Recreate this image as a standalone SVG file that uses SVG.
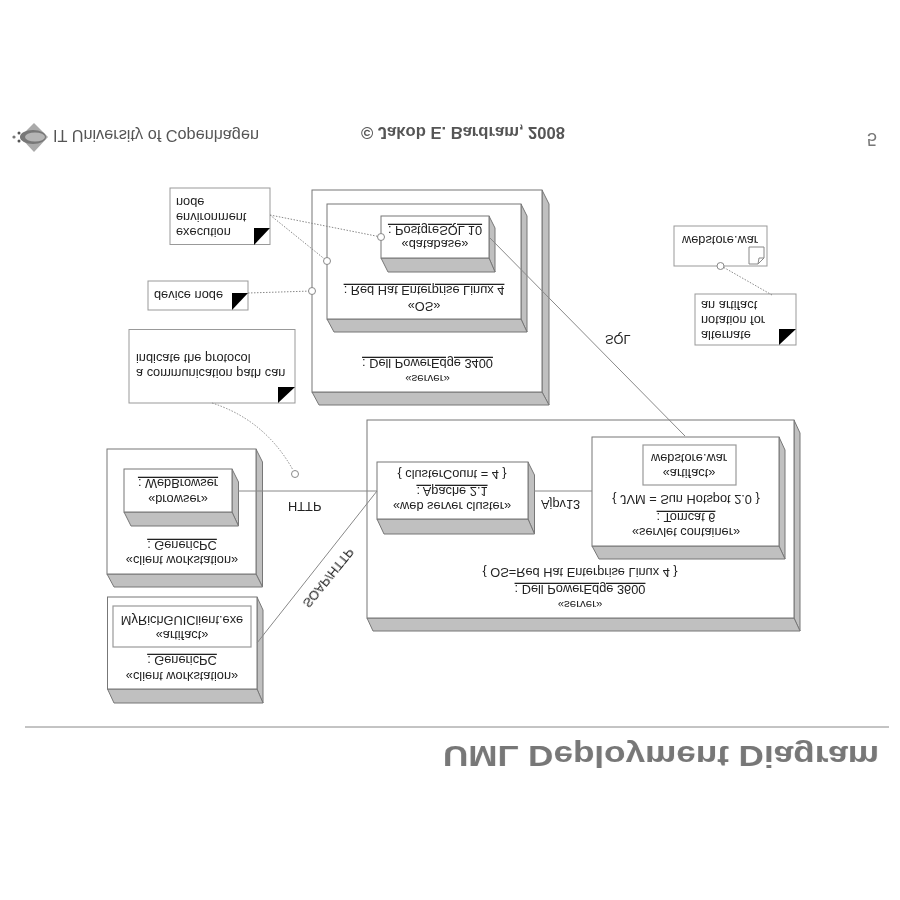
<svg xmlns="http://www.w3.org/2000/svg" width="900" height="900" viewBox="0 0 900 900">
<style>
text{font-family:"Liberation Sans",Arial,sans-serif;font-size:12.8px;fill:#222}
.m{text-anchor:middle}
.u{text-decoration:underline}
.f{fill:#fff;stroke:#777;stroke-width:1}
.d{fill:#c0c0c0;stroke:#777;stroke-width:1}
.a{fill:#fff;stroke:#999;stroke-width:1.2}
.n{fill:#fff;stroke:#999;stroke-width:1}
.k{fill:#000;stroke:none}
.c{fill:none;stroke:#888;stroke-width:1}
.o{fill:none;stroke:#888;stroke-width:1;stroke-dasharray:1.5 1.5}
.r{fill:#fff;stroke:#888;stroke-width:1}
.h{fill:#555;font-size:16px}
</style>
<defs><filter id="soft" x="0" y="0" width="100%" height="100%"><feGaussianBlur stdDeviation="0.4"/></filter></defs>
<rect width="900" height="900" fill="#fff"/>
<g filter="url(#soft)">
<g id="header">
<g id="logo">
<path d="M34 123L48 137L34 152L20 137Z" fill="#aaa"/>
<ellipse cx="33" cy="137" rx="13" ry="7" fill="#777"/>
<ellipse cx="35" cy="137" rx="10" ry="4.500" fill="#b5b5b5"/>
<circle cx="14" cy="137" r="1.600" fill="#777"/>
<circle cx="19" cy="133" r="1.500" fill="#555"/>
<circle cx="19" cy="141" r="1.500" fill="#555"/>
</g>
<text class="h" transform="matrix(1 0 0 -1 53 130)" textLength="206" lengthAdjust="spacingAndGlyphs">IT University of Copenhagen</text>
<text class="h" transform="matrix(1 0 0 -1 361 127)" style="font-size:16px;font-weight:bold" textLength="204" lengthAdjust="spacingAndGlyphs">© Jakob E. Bardram, 2008</text>
<text class="h" transform="matrix(1 0 0 -1 867 133)" style="fill:#777;font-size:18px">5</text>
<path d="M25 727H889" stroke="#888" stroke-width="1" fill="none"/>
<text transform="matrix(1 0 0 -1 443 746)" style="font-size:30px;font-weight:bold;fill:#777" textLength="436" lengthAdjust="spacingAndGlyphs">UML Deployment Diagram</text>
</g>

<g id="server-3400">
<path class="d" d="M542 190L549 204V405L542 392Z"/><path class="d" d="M312 392L319 405H549L542 392Z"/>
<rect class="f" x="312" y="190" width="230" height="202"/>
<text class="m u" transform="matrix(1 0 0 -1 427.500 359)">: Dell PowerEdge 3400</text>
<text class="m" transform="matrix(1 0 0 -1 427.500 375)" style="font-size:11.500px">«server»</text>
</g>
<g id="os">
<path class="d" d="M521 204L527 216V332L521 319Z"/><path class="d" d="M327 319L334 332H527L521 319Z"/>
<rect class="f" x="327" y="204" width="194" height="115"/>
<text class="m u" transform="matrix(1 0 0 -1 424 286)">: Red Hat Enterprise Linux 4</text>
<text class="m" transform="matrix(1 0 0 -1 424 302)">«OS»</text>
</g>
<g id="database">
<path class="d" d="M489 216L495 228V272L489 258Z"/><path class="d" d="M381 258L388 272H495L489 258Z"/>
<rect class="f" x="381" y="216" width="108" height="42"/>
<text class="m u" transform="matrix(1 0 0 -1 435 226)">: PostgreSQL 10</text>
<text class="m" transform="matrix(1 0 0 -1 435 240)">«database»</text>
</g>
<g id="note-execution">
<rect class="n" x="170" y="188" width="100" height="56.500"/>
<path class="k" d="M254 245V228H270Z"/>
<text transform="matrix(1 0 0 -1 176 198)">node</text>
<text transform="matrix(1 0 0 -1 176 213)">environment</text>
<text transform="matrix(1 0 0 -1 176 228)">execution</text>
</g>
<g id="note-device">
<rect class="n" x="148" y="281" width="100" height="29"/>
<path class="k" d="M232 310V293H248Z"/>
<text transform="matrix(1 0 0 -1 154 291)">device node</text>
</g>
<g id="note-path">
<rect class="n" x="129" y="329.500" width="166" height="73.500"/>
<path class="k" d="M278 403V387H295Z"/>
<text transform="matrix(1 0 0 -1 136 354)">indicate the protocol</text>
<text transform="matrix(1 0 0 -1 136 369)">a communication path can</text>
</g>
<g id="workstation-browser">
<path class="d" d="M256 449L262.500 462V587L256 574Z"/><path class="d" d="M107 574L114 587H262.500L256 574Z"/>
<rect class="f" x="107" y="449" width="149" height="125"/>
<text class="m u" transform="matrix(1 0 0 -1 182 541)">: GenericPC</text>
<text class="m" transform="matrix(1 0 0 -1 182 556)">«client workstation»</text>
</g>
<g id="browser">
<path class="d" d="M232 469L238.500 482V526L232 512Z"/><path class="d" d="M124 512L131 526H238.500L232 512Z"/>
<rect class="f" x="124" y="469" width="108" height="43"/>
<text class="m u" transform="matrix(1 0 0 -1 178 479)">: WebBrowser</text>
<text class="m" transform="matrix(1 0 0 -1 178 495)">«browser»</text>
</g>
<g id="workstation-artifact">
<path class="d" d="M257 597L263 610V703L257 689Z"/><path class="d" d="M107.500 689L114 703H263L257 689Z"/>
<rect class="f" x="107.500" y="597" width="149.500" height="92"/>
<rect class="a" x="113" y="606" width="138" height="41"/>
<text class="m" transform="matrix(1 0 0 -1 182 616)">MyRichGUIClient.exe</text>
<text class="m" transform="matrix(1 0 0 -1 182 631)">«artifact»</text>
<text class="m u" transform="matrix(1 0 0 -1 182 656)">: GenericPC</text>
<text class="m" transform="matrix(1 0 0 -1 182 672)">«client workstation»</text>
</g>
<g id="server-3600">
<path class="d" d="M794 420L800 433V631L794 618Z"/><path class="d" d="M367 618L373 631H800L794 618Z"/>
<rect class="f" x="367" y="420" width="427" height="198"/>
<text class="m" transform="matrix(1 0 0 -1 580 568)">{ OS=Red Hat Enterprise Linux 4 }</text>
<text class="m u" transform="matrix(1 0 0 -1 580 585)">: Dell PowerEdge 3600</text>
<text class="m" transform="matrix(1 0 0 -1 580 601)" style="font-size:11.500px">«server»</text>
</g>
<g id="web-server-cluster">
<path class="d" d="M528 462L534.500 475V534L528 519Z"/><path class="d" d="M377 519L384 534H534.500L528 519Z"/>
<rect class="f" x="377" y="462" width="151" height="57"/>
<text class="m" transform="matrix(1 0 0 -1 452 470)">{ clusterCount = 4 }</text>
<text class="m u" transform="matrix(1 0 0 -1 452 487)">: Apache 2.1</text>
<text class="m" transform="matrix(1 0 0 -1 452 502)">«web server cluster»</text>
</g>
<g id="servlet-container">
<path class="d" d="M779 437L785 450V559L779 546Z"/><path class="d" d="M592 546L599 559H785L779 546Z"/>
<rect class="f" x="592" y="437" width="187" height="109"/>
<text class="m" transform="matrix(1 0 0 -1 686 495)">{ JVM = Sun Hotspot 2.0 }</text>
<text class="m u" transform="matrix(1 0 0 -1 686 513)">: Tomcat 6</text>
<text class="m" transform="matrix(1 0 0 -1 686 528)">«servlet container»</text>
</g>
<g id="artifact-webstore">
<rect class="a" x="643" y="445" width="93" height="40"/>
<text class="m" transform="matrix(1 0 0 -1 689 454)">webstore.war</text>
<text class="m" transform="matrix(1 0 0 -1 689 469)">«artifact»</text>
</g>
<g id="artifact-icon-node">
<rect class="n" x="674" y="226" width="93" height="40"/>
<path d="M749 247H764V258L758 264H749Z" fill="#fff" stroke="#888" stroke-width="1"/>
<path d="M758 264L759 258H764" fill="none" stroke="#888" stroke-width="1"/>
<text transform="matrix(1 0 0 -1 682 236)">webstore.war</text>
</g>
<g id="note-artifact">
<rect class="n" x="695" y="294" width="101" height="51"/>
<path class="k" d="M779 345V329H796Z"/>
<text transform="matrix(1 0 0 -1 701 301)">an artifact</text>
<text transform="matrix(1 0 0 -1 701 316)">notation for</text>
<text transform="matrix(1 0 0 -1 701 331)">alternate</text>
</g>
<g id="connectors">
<path class="c" d="M238 491H377"/>
<path class="c" d="M257 643L377 491"/>
<path class="c" d="M534 491H592"/>
<path class="c" d="M489 237L685 436"/>
<path class="o" d="M270 215L381 237"/>
<path class="o" d="M270 215L327 261"/>
<path class="o" d="M248 293L312 291"/>
<path class="o" d="M212 403Q265 420 293 470"/>
<path class="o" d="M772 295L723 267"/>
<circle class="r" cx="381" cy="237" r="3.500"/>
<circle class="r" cx="327" cy="261" r="3.500"/>
<circle class="r" cx="312" cy="291" r="3.500"/>
<circle class="r" cx="295" cy="474" r="3.500"/>
<circle class="r" cx="720.500" cy="266" r="3.500"/>
<text transform="matrix(1 0 0 -1 288 502)">HTTP</text>
<text transform="matrix(1 0 0 -1 541 500)">Ajpv13</text>
<text transform="matrix(1 0 0 -1 605 335)">SQL</text>
<text transform="translate(302 603) rotate(-51) scale(1 -1)">SOAP/HTTP</text>
</g>
</g>
</svg>
